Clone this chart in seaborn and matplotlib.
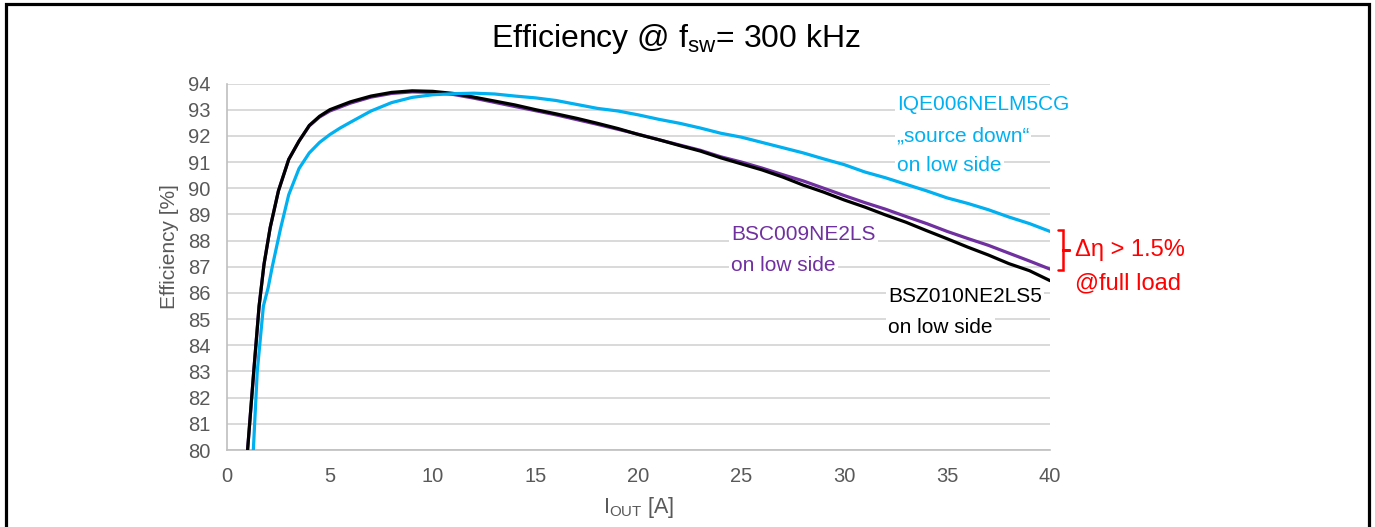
import numpy as np
import pandas as pd
import matplotlib
matplotlib.use("Agg")
import matplotlib.pyplot as plt
import seaborn as sns
from matplotlib.lines import Line2D

# ---------------- data ----------------
iqe_x = [1.28, 1.47, 1.77, 2.0, 2.2, 2.6, 3.0, 3.5, 4.0, 4.5, 5.0, 5.5, 6, 7, 8, 9, 10,
         11, 12, 13, 14, 15, 16, 17, 18, 19, 20, 21, 22, 23, 24, 25, 26, 27, 28, 29,
         30, 31, 32, 33, 34, 35, 36, 37, 38, 39, 40]
iqe_y = [80.0, 83.0, 85.5, 86.2, 87.0, 88.45, 89.75, 90.75, 91.35, 91.75, 92.05, 92.3,
         92.52, 92.95, 93.27, 93.47, 93.57, 93.61, 93.63, 93.6, 93.52, 93.45, 93.35,
         93.2, 93.05, 92.95, 92.8, 92.63, 92.48, 92.3, 92.1, 91.95, 91.75, 91.55,
         91.35, 91.12, 90.9, 90.62, 90.4, 90.15, 89.9, 89.63, 89.42, 89.18, 88.9,
         88.65, 88.35]

bsc_x = [1.0, 1.3, 1.56, 1.8, 2.1, 2.5, 3.0, 3.5, 4.0, 4.5, 5, 6, 7, 8, 9, 10, 11, 12,
         13, 14, 15, 16, 17, 18, 19, 20, 21, 22, 23, 24, 25, 26, 27, 28, 29, 30, 31,
         32, 33, 34, 35, 36, 37, 38, 39, 40]
bsc_y = [80.0, 83.0, 85.5, 87.1, 88.5, 89.9, 91.1, 91.8, 92.38, 92.72, 92.95, 93.25,
         93.48, 93.62, 93.68, 93.66, 93.58, 93.44, 93.28, 93.12, 92.96, 92.8, 92.62,
         92.44, 92.25, 92.06, 91.85, 91.65, 91.45, 91.2, 91.0, 90.77, 90.52, 90.28,
         90.0, 89.72, 89.45, 89.2, 88.92, 88.65, 88.35, 88.08, 87.82, 87.52, 87.22,
         86.91]

bsz_x = [1.0, 1.3, 1.56, 1.8, 2.1, 2.5, 3.0, 3.5, 4.0, 4.5, 5, 6, 7, 8, 9, 10, 11, 12,
         13, 14, 15, 16, 17, 18, 19, 20, 21, 22, 23, 24, 25, 26, 27, 28, 29, 30, 31,
         32, 33, 34, 35, 36, 37, 38, 39, 40]
bsz_y = [80.0, 83.0, 85.5, 87.1, 88.5, 89.9, 91.1, 91.8, 92.4, 92.75, 93.0, 93.3,
         93.52, 93.66, 93.72, 93.7, 93.62, 93.48, 93.33, 93.18, 93.0, 92.84, 92.67,
         92.48, 92.28, 92.05, 91.85, 91.63, 91.42, 91.16, 90.93, 90.7, 90.43, 90.12,
         89.85, 89.55, 89.28, 88.98, 88.7, 88.38, 88.07, 87.75, 87.45, 87.12, 86.85,
         86.47]

x_ticks = [0, 5, 10, 15, 20, 25, 30, 35, 40]
y_ticks = list(range(80, 95))

series_names = ["BSC009NE2LS", "BSZ010NE2LS5", "IQE006NELM5CG"]
series_colors = {"IQE006NELM5CG": "#00B0F0", "BSC009NE2LS": "#7030A0",
                 "BSZ010NE2LS5": "#000000"}

df = pd.concat([
    pd.DataFrame({"I": iqe_x, "eff": iqe_y, "device": "IQE006NELM5CG"}),
    pd.DataFrame({"I": bsc_x, "eff": bsc_y, "device": "BSC009NE2LS"}),
    pd.DataFrame({"I": bsz_x, "eff": bsz_y, "device": "BSZ010NE2LS5"}),
], ignore_index=True)

# ---------------- style ----------------
sns.set_theme(style="white")
plt.rcParams["font.family"] = ["Liberation Sans", "DejaVu Sans"]
plt.rcParams["mathtext.fontset"] = "custom"
plt.rcParams["mathtext.rm"] = "Liberation Sans"
plt.rcParams["mathtext.it"] = "Liberation Sans"
plt.rcParams["mathtext.default"] = "rm"

gray = "#595959"
grid_c = "#D9D9D9"

fig = plt.figure(figsize=(13.75, 5.27), dpi=100)
ax = fig.add_axes([227 / 1375, 1 - 450 / 527, (1050 - 227) / 1375, (450 - 83.5) / 527])

for name in series_names:
    sub = df[df["device"] == name]
    sns.lineplot(data=sub, x="I", y="eff", ax=ax, color=series_colors[name],
                 linewidth=2.3, sort=False, estimator=None, legend=False, zorder=3)

ax.set_xlim(0, 40)
ax.set_ylim(80, 94)
ax.set_xticks(x_ticks)
ax.set_yticks(y_ticks)
ax.set_axisbelow(True)
ax.grid(axis="y", color=grid_c, linewidth=1.4)
ax.grid(axis="x", visible=False)
for s in ["top", "right"]:
    ax.spines[s].set_visible(False)
for s in ["left", "bottom"]:
    ax.spines[s].set_color("#BFBFBF")
    ax.spines[s].set_linewidth(1.2)
ax.tick_params(axis="y", length=0, pad=12, labelsize=14.5, labelcolor=gray)
ax.tick_params(axis="x", length=0, pad=12, labelsize=14.5, labelcolor=gray)

ax.set_xlabel(r"I$_{\mathrm{OUT}}$ [A]", fontsize=15.5, color=gray, labelpad=7)
ax.set_ylabel("Efficiency [%]", fontsize=15, color=gray, labelpad=6)
ax.yaxis.set_label_coords(-0.058, 0.555)

fig.text(676 / 1375, 1 - 46.5 / 527, r"Efficiency @ f$_{\mathrm{sw}}$= 300 kHz",
         ha="center", va="baseline", fontsize=23, color="black")

# ---------------- annotations ----------------
box = dict(facecolor="white", edgecolor="none", pad=1.5)
fs = 15
ax.text(32.56, 93.2, "IQE006NELM5CG", color="#00B0F0", fontsize=fs, ha="left",
        va="center", bbox=box, zorder=1.5, clip_on=False)
ax.text(32.56, 92.01, "\u201esource down\u201c", color="#00B0F0", fontsize=fs,
        ha="left", va="center", bbox=box, zorder=1.5, clip_on=False)
ax.text(32.56, 90.86, "on low side", color="#00B0F0", fontsize=fs, ha="left",
        va="center", bbox=box, zorder=1.5, clip_on=False)

ax.text(24.5, 88.22, "BSC009NE2LS", color="#7030A0", fontsize=fs, ha="left",
        va="center", bbox=box, zorder=1.5)
ax.text(24.5, 87.04, "on low side", color="#7030A0", fontsize=fs, ha="left",
        va="center", bbox=box, zorder=1.5)

ax.text(32.13, 85.85, "BSZ010NE2LS5", color="black", fontsize=fs, ha="left",
        va="center", bbox=box, zorder=1.5, clip_on=False)
ax.text(32.13, 84.67, "on low side", color="black", fontsize=fs, ha="left",
        va="center", bbox=box, zorder=1.5)

# red bracket spanning the full-load gap between IQE and BSC
y_top = iqe_y[-1] + 0.05
y_bot = bsc_y[-1] - 0.05
y_mid = (y_top + y_bot) / 2
xb0, xb1, xb2 = 40.39, 40.63, 40.95
ax.plot([xb0, xb1, xb1, xb2, xb1, xb1, xb0],
        [y_top, y_top, y_mid, y_mid, y_mid, y_bot, y_bot],
        color="#FF0000", linewidth=1.8, clip_on=False, solid_joinstyle="miter")
ax.text(41.2, y_mid, "\u0394\u03b7 > 1.5%", color="#FF0000", fontsize=17,
        ha="left", va="center", clip_on=False)
ax.text(41.2, y_mid - 1.25, "@full load", color="#FF0000", fontsize=17,
        ha="left", va="center", clip_on=False)

# ---------------- outer frame ----------------
lw_frame = 2.3
xl, xr, yt = 6 / 1375, 1369 / 1375, 1 - 4 / 527
fig.add_artist(Line2D([xl, xl, xr, xr], [0, yt, yt, 0], transform=fig.transFigure,
                      color="black", linewidth=lw_frame, solid_joinstyle="miter"))

fig.savefig("out.png", dpi=100)
